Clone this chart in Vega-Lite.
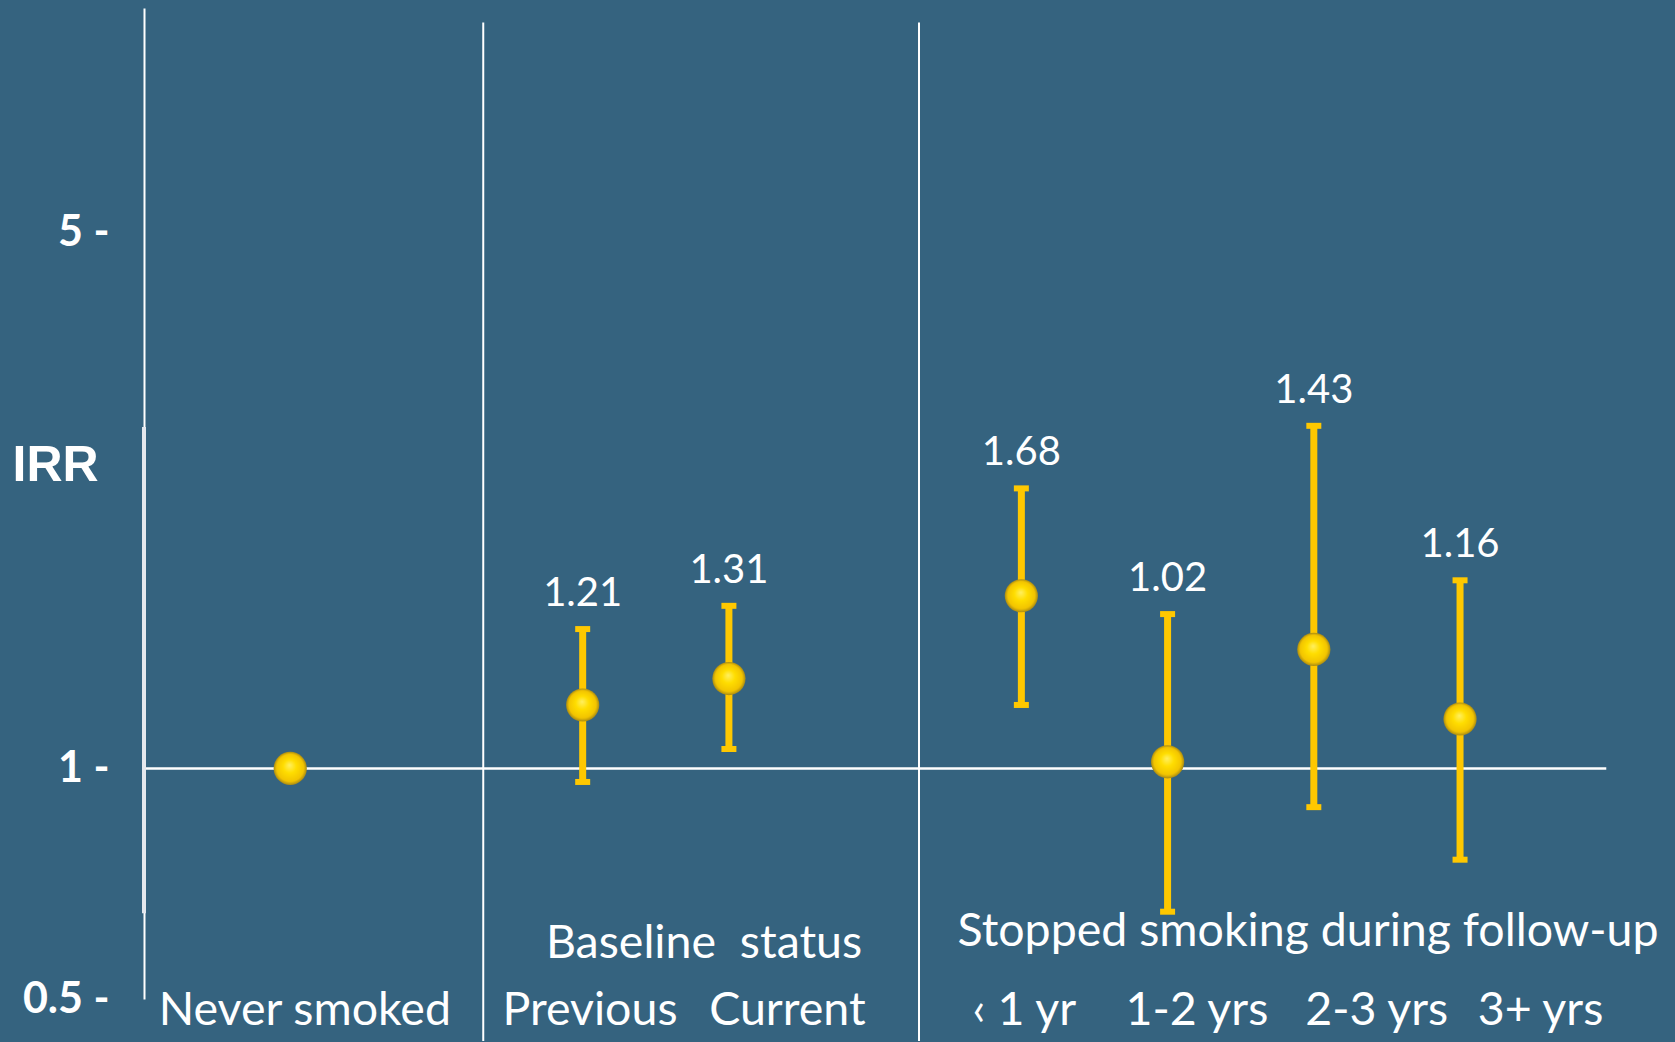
{
  "$schema": "https://vega.github.io/schema/vega-lite/v6.json",
  "width": 1531,
  "height": 991,
  "autosize": {"type": "none"},
  "padding": {"left": 144, "top": 8, "right": 0, "bottom": 43},
  "background": "#35637F",
  "config": {"view": {"stroke": null}},
  "datasets": {
    "points": [
      {"cat": "Never smoked", "pos": 0, "irr": 1, "lo": null, "hi": null},
      {"cat": "Previous", "pos": 2, "irr": 1.21, "lo": 0.96, "hi": 1.52},
      {"cat": "Current", "pos": 3, "irr": 1.31, "lo": 1.06, "hi": 1.63},
      {"cat": "< 1 yr", "pos": 5, "irr": 1.68, "lo": 1.21, "hi": 2.32},
      {"cat": "1-2 yrs", "pos": 6, "irr": 1.02, "lo": 0.65, "hi": 1.59},
      {"cat": "2-3 yrs", "pos": 7, "irr": 1.43, "lo": 0.89, "hi": 2.8},
      {"cat": "3+ yrs", "pos": 8, "irr": 1.16, "lo": 0.76, "hi": 1.76}
    ],
    "baseline": [{"from": -1, "to": 9, "irr": 1}],
    "separators": [
      {"pos": 1.32, "from": 0.4406, "to": 9.41},
      {"pos": 4.3, "from": 0.4406, "to": 9.41}
    ],
    "overlay": [{"pos": -1, "from": 0.647, "to": 2.79}],
    "labels": [
      {"text": "Never smoked", "pos": 0.1, "y": 0.462},
      {"text": "Previous", "pos": 2.05, "y": 0.462},
      {"text": "Current", "pos": 3.4, "y": 0.462},
      {"text": "‹ 1 yr", "pos": 5.02, "y": 0.462},
      {"text": "1-2 yrs", "pos": 6.2, "y": 0.462},
      {"text": "2-3 yrs", "pos": 7.43, "y": 0.462},
      {"text": "3+ yrs", "pos": 8.55, "y": 0.462},
      {"text": "Baseline\u00a0 status", "pos": 2.83, "y": 0.5655},
      {"text": "Stopped smoking during follow-up", "pos": 6.96, "y": 0.5855}
    ]
  },
  "layer": [
    {
      "data": {"name": "baseline"},
      "mark": {"type": "rule", "color": "#FFFFFF", "strokeWidth": 2.5},
      "encoding": {
        "x": {"field": "from", "type": "quantitative", "scale": {"domain": [-1, 9.47], "nice": false, "zero": false}, "axis": null},
        "x2": {"field": "to"},
        "y": {
          "field": "irr", "type": "quantitative", "title": "IRR",
          "scale": {"type": "log", "domain": [0.5, 9.83], "nice": false},
          "axis": {
            "values": [0.5, 1, 5],
            "labelExpr": "datum.value + ' -'",
            "ticks": false, "grid": false,
            "domain": true, "domainColor": "#FFFFFF", "domainWidth": 2,
            "labelColor": "#FFFFFF", "labelFont": "Lato", "labelFontSize": 43, "labelFontWeight": "bold",
            "labelPadding": 35, "labelAlign": "right", "labelBaseline": "middle",
            "labelFlush": false, "labelOverlap": false, "labelBound": false,
            "title": "IRR", "titleAngle": 0, "titleAlign": "left", "titleBaseline": "middle",
            "titleX": -132, "titleY": 457, "titleFont": "Liberation Sans", "titleFontSize": 50,
            "titleFontWeight": "bold", "titleColor": "#FFFFFF"
          }
        }
      }
    },
    {
      "data": {"name": "overlay"},
      "mark": {"type": "rule", "color": "#E4E8EE", "strokeWidth": 4},
      "encoding": {
        "x": {"field": "pos", "type": "quantitative", "scale": {"domain": [-1, 9.47], "nice": false, "zero": false}, "axis": null},
        "y": {"field": "from", "type": "quantitative", "title": "IRR", "scale": {"type": "log", "domain": [0.5, 9.83], "nice": false}},
        "y2": {"field": "to"}
      }
    },
    {
      "data": {"name": "separators"},
      "mark": {"type": "rule", "color": "#FFFFFF", "strokeWidth": 2},
      "encoding": {
        "x": {"field": "pos", "type": "quantitative", "scale": {"domain": [-1, 9.47], "nice": false, "zero": false}, "axis": null},
        "y": {"field": "from", "type": "quantitative", "title": "IRR", "scale": {"type": "log", "domain": [0.5, 9.83], "nice": false}},
        "y2": {"field": "to"}
      }
    },
    {
      "data": {"name": "points"},
      "mark": {"type": "rule", "color": "#FFC800", "strokeWidth": 7},
      "encoding": {
        "x": {"field": "pos", "type": "quantitative", "scale": {"domain": [-1, 9.47], "nice": false, "zero": false}, "axis": null},
        "y": {"field": "lo", "type": "quantitative", "title": "IRR", "scale": {"type": "log", "domain": [0.5, 9.83], "nice": false}},
        "y2": {"field": "hi"}
      }
    },
    {
      "data": {"name": "points"},
      "mark": {"type": "tick", "orient": "horizontal", "color": "#FFC800", "size": 15, "thickness": 6, "opacity": 1},
      "encoding": {
        "x": {"field": "pos", "type": "quantitative", "scale": {"domain": [-1, 9.47], "nice": false, "zero": false}, "axis": null},
        "y": {"field": "lo", "type": "quantitative", "title": "IRR", "scale": {"type": "log", "domain": [0.5, 9.83], "nice": false}}
      }
    },
    {
      "data": {"name": "points"},
      "mark": {"type": "tick", "orient": "horizontal", "color": "#FFC800", "size": 15, "thickness": 6, "opacity": 1},
      "encoding": {
        "x": {"field": "pos", "type": "quantitative", "scale": {"domain": [-1, 9.47], "nice": false, "zero": false}, "axis": null},
        "y": {"field": "hi", "type": "quantitative", "title": "IRR", "scale": {"type": "log", "domain": [0.5, 9.83], "nice": false}}
      }
    },
    {
      "data": {"name": "points"},
      "mark": {
        "type": "point", "shape": "circle", "filled": true, "size": 1100, "opacity": 1,
        "fill": {
          "gradient": "radial", "x1": 0.48, "y1": 0.4, "r1": 0, "x2": 0.5, "y2": 0.5, "r2": 0.5,
          "stops": [
            {"offset": 0, "color": "#FFEF60"},
            {"offset": 0.4, "color": "#FFDD00"},
            {"offset": 0.82, "color": "#F2C400"},
            {"offset": 1, "color": "#A88A14"}
          ]
        }
      },
      "encoding": {
        "x": {"field": "pos", "type": "quantitative", "scale": {"domain": [-1, 9.47], "nice": false, "zero": false}, "axis": null},
        "y": {"field": "irr", "type": "quantitative", "title": "IRR", "scale": {"type": "log", "domain": [0.5, 9.83], "nice": false}}
      }
    },
    {
      "data": {"name": "points"},
      "transform": [{"filter": "isValid(datum.hi)"}],
      "mark": {"type": "text", "color": "#FFFFFF", "font": "Lato", "fontSize": 40, "align": "center", "baseline": "alphabetic", "dy": -23},
      "encoding": {
        "x": {"field": "pos", "type": "quantitative", "scale": {"domain": [-1, 9.47], "nice": false, "zero": false}, "axis": null},
        "y": {"field": "hi", "type": "quantitative", "title": "IRR", "scale": {"type": "log", "domain": [0.5, 9.83], "nice": false}},
        "text": {"field": "irr", "type": "quantitative", "format": ".2f"}
      }
    },
    {
      "data": {"name": "labels"},
      "mark": {"type": "text", "color": "#FFFFFF", "font": "Lato", "fontSize": 46.5, "align": "center", "baseline": "alphabetic"},
      "encoding": {
        "x": {"field": "pos", "type": "quantitative", "scale": {"domain": [-1, 9.47], "nice": false, "zero": false}, "axis": null},
        "y": {"field": "y", "type": "quantitative", "title": "IRR", "scale": {"type": "log", "domain": [0.5, 9.83], "nice": false}},
        "text": {"field": "text", "type": "nominal"}
      }
    }
  ]
}
